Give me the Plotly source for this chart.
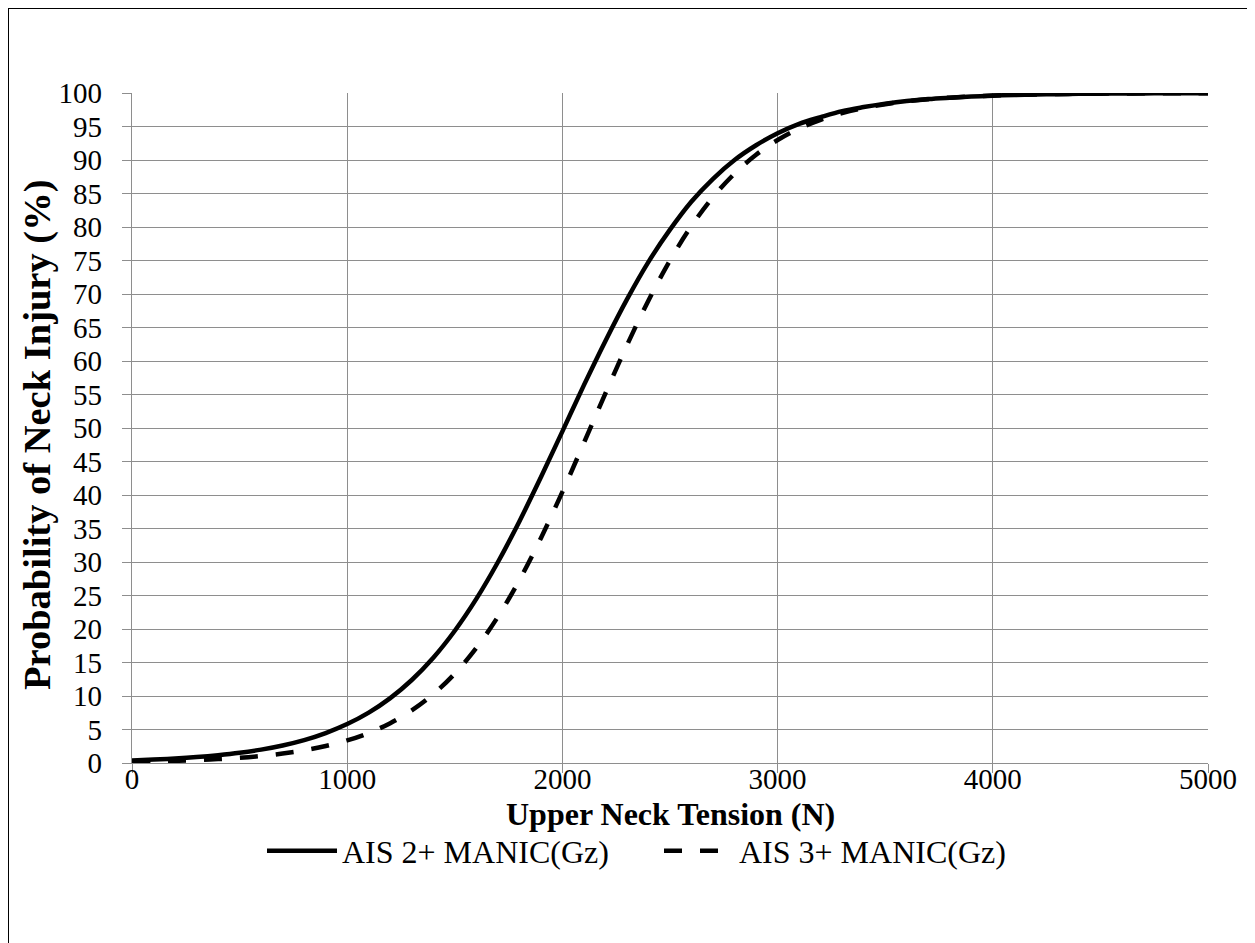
import plotly.graph_objects as go

# Upper neck tension (N)
tension = [0, 100, 200, 300, 400, 500, 600, 700, 800, 900,
           1000, 1100, 1200, 1300, 1400, 1500, 1600, 1700, 1800, 1900,
           2000, 2100, 2200, 2300, 2400, 2500, 2600, 2700, 2800, 2900,
           3000, 3100, 3200, 3300, 3400, 3500, 3600, 3700, 3800, 3900,
           4000, 4100, 4200, 4300, 4400, 4500, 4600, 4700, 4800, 4900, 5000]

# Probability of neck injury (%)
ais2 = [0.39, 0.51, 0.67, 0.88, 1.16, 1.52, 2.00, 2.62, 3.42, 4.47,
        5.81, 7.52, 9.68, 12.39, 15.71, 19.74, 24.49, 29.96, 36.06, 42.65,
        49.5, 56.4, 63.0, 69.2, 74.8, 79.6, 83.8, 87.2, 90.0, 92.2,
        94.0, 95.4, 96.4, 97.3, 97.9, 98.4, 98.8, 99.1, 99.3, 99.47,
        99.6, 99.7, 99.77, 99.82, 99.87, 99.90, 99.92, 99.94, 99.95, 99.96, 99.97]

ais3 = [0.18, 0.24, 0.32, 0.43, 0.58, 0.78, 1.05, 1.41, 1.89, 2.53,
        3.37, 4.48, 5.94, 7.84, 10.27, 13.35, 17.17, 21.81, 27.29, 33.56,
        40.47, 47.78, 55.18, 62.36, 69.04, 75.01, 80.16, 84.46, 87.97, 90.78,
        92.98, 94.69, 96.0, 97.0, 97.75, 98.32, 98.75, 99.07, 99.30, 99.48,
        99.61, 99.71, 99.79, 99.84, 99.88, 99.91, 99.93, 99.95, 99.96, 99.97, 99.98]

series_names = ["AIS 2+ MANIC(Gz)", "AIS 3+ MANIC(Gz)"]
x_title = "Upper Neck Tension (N)"
y_title = "Probability of Neck Injury (%)"
x_ticks = [0, 1000, 2000, 3000, 4000, 5000]
y_ticks = list(range(0, 101, 5))

FONT = "Liberation Serif, Times New Roman, serif"
GRID = "#8e8e8e"

# figure is drawn 8px in from the page corner (body margin)
W, H = 1247, 935
L, R, T, B = 124, 47, 85, 180
PW, PH = W - L - R, H - T - B

fig = go.Figure()
fig.add_trace(go.Scatter(x=tension, y=ais2, mode="lines", name=series_names[0],
                         line=dict(color="black", width=4.5, shape="spline")))
fig.add_trace(go.Scatter(x=tension, y=ais3, mode="lines", name=series_names[1],
                         line=dict(color="black", width=4.5, shape="spline", dash="18px,18px")))

axis_common = dict(showgrid=True, gridcolor=GRID, gridwidth=1.2,
                   showline=True, linecolor=GRID, linewidth=1.2,
                   ticks="outside", ticklen=9, tickcolor=GRID, tickwidth=1.2,
                   zeroline=False,
                   tickfont=dict(family=FONT, size=29, color="black"))

fig.update_layout(
    width=W, height=H,
    margin=dict(l=L, r=R, t=T, b=B),
    paper_bgcolor="white", plot_bgcolor="white",
    font=dict(family=FONT, size=29, color="black"),
    showlegend=True,
    legend=dict(orientation="h", x=(254 - L) / PW, xanchor="left",
                y=-(843 - (H - B)) / PH, yanchor="middle",
                font=dict(family=FONT, size=32, color="black"),
                itemwidth=70, entrywidth=312, entrywidthmode="pixels",
                tracegroupgap=0, bgcolor="rgba(0,0,0,0)"),
    xaxis=dict(range=[0, 5000], tickvals=x_ticks, ticktext=[str(v) for v in x_ticks],
               ticklabelstandoff=-19, **axis_common),
    yaxis=dict(range=[0, 100], tickvals=y_ticks, ticktext=[str(v) for v in y_ticks],
               ticklabelstandoff=14, **axis_common),
)

# axis titles
fig.add_annotation(text="<b>" + x_title + "</b>", xref="paper", yref="paper",
                   x=0.5, y=-(806 - (H - B)) / PH, xanchor="center", yanchor="middle",
                   showarrow=False, font=dict(family=FONT, size=32, color="black"))
fig.add_annotation(text="<b>" + y_title + "</b>", xref="paper", yref="paper",
                   x=(29 - L) / PW, y=((H - B) - 427) / PH, xanchor="center", yanchor="middle",
                   textangle=-90,
                   showarrow=False, font=dict(family=FONT, size=38.5, color="black"))

# outer chart frame
fig.add_shape(type="rect", xref="paper", yref="paper",
              x0=(0 - L) / PW, x1=(1244 - L) / PW,
              y0=((H - B) - 940) / PH, y1=((H - B) - 0) / PH,
              line=dict(color="black", width=2), fillcolor="rgba(0,0,0,0)", layer="below")

fig.write_html("out.html")
